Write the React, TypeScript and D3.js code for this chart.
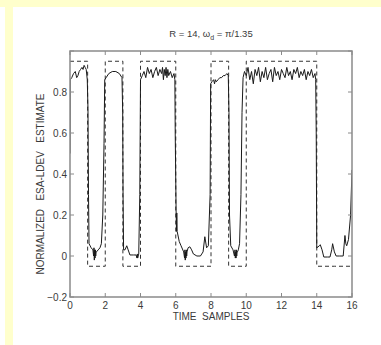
import React from "react";
import * as d3 from "d3";

const W = 381;
const H = 345;

const xTicks = [0, 2, 4, 6, 8, 10, 12, 14, 16];
const yTicks = [-0.2, 0, 0.2, 0.4, 0.6, 0.8, 1.0];
const yTickLabels = ["\u22120.2", "0", "0.2", "0.4", "0.6", "0.8", ""];

const bits = [1, 0, 1, 0, 1, 1, 0, 0, 1, 0, 1, 1, 1, 1, 0, 0];
const highLevel = 0.95;
const lowLevel = -0.05;

const estX = [
  0, 0.01, 0.1, 0.2, 0.3, 0.38, 0.45, 0.52, 0.6, 0.68, 0.74, 0.8, 0.86, 0.92, 0.98, 1.02, 1.05, 1.08, 1.2, 1.3,
  1.34, 1.36, 1.38, 1.4, 1.42, 1.44, 1.46, 1.48, 1.5, 1.6, 1.7, 1.78, 1.86, 1.93, 1.97, 2.05, 2.2, 2.4, 2.6, 2.8,
  2.95, 2.99, 3.01, 3.04, 3.12, 3.22, 3.3, 3.4, 3.6, 3.75, 3.8, 3.82, 3.84, 3.9, 3.96, 4.0, 4.1, 4.2, 4.3, 4.4,
  4.5, 4.6, 4.7, 4.8, 4.9, 5.0, 5.1, 5.2, 5.25, 5.3, 5.35, 5.4, 5.45, 5.5, 5.55, 5.6, 5.7, 5.8, 5.9, 5.95, 5.97,
  6.02, 6.04, 6.06, 6.08, 6.2, 6.3, 6.45, 6.5, 6.52, 6.54, 6.56, 6.58, 6.6, 6.62, 6.64, 6.7, 6.8, 6.9, 7.0, 7.2,
  7.4, 7.55, 7.65, 7.75, 7.85, 7.95, 7.98, 8.05, 8.15, 8.2, 8.25, 8.3, 8.4, 8.5, 8.6, 8.7, 8.8, 8.9, 8.98, 9.02,
  9.05, 9.12, 9.25, 9.33, 9.36, 9.38, 9.4, 9.42, 9.44, 9.46, 9.48, 9.5, 9.55, 9.62, 9.7, 9.76, 9.82, 9.9, 10.0,
  10.1, 10.2, 10.3, 10.4, 10.5, 10.6, 10.7, 10.8, 10.9, 11.0, 11.1, 11.2, 11.3, 11.4, 11.5, 11.6, 11.7, 11.8,
  11.9, 12.0, 12.1, 12.2, 12.3, 12.4, 12.5, 12.6, 12.7, 12.8, 12.9, 13.0, 13.1, 13.2, 13.3, 13.4, 13.5, 13.6,
  13.7, 13.8, 13.9, 13.94, 13.97, 14.0, 14.15, 14.2, 14.3, 14.4, 14.6, 14.75, 14.85, 14.9, 15.0, 15.1, 15.3,
  15.5, 15.6, 15.65, 15.7, 15.8, 15.92, 16.0,
];
const estY = [
  0.5, 0.86, 0.87, 0.89, 0.9, 0.87, 0.88, 0.9, 0.91, 0.92, 0.91, 0.93, 0.92, 0.91, 0.86, 0.72, 0.3, 0.06, 0.04, 0.03,
  0.0, 0.04, -0.02, 0.03, -0.01, 0.03, 0.0, 0.02, 0.02, 0.03, 0.04, 0.06, 0.2, 0.55, 0.86, 0.87, 0.89, 0.9, 0.9, 0.89,
  0.87, 0.7, 0.3, 0.03, 0.03, 0.05, 0.03, 0.005, 0.005, 0.005, -0.01, 0.01, -0.01, 0.01, 0.3, 0.86, 0.88, 0.9, 0.87, 0.92,
  0.89, 0.91, 0.87, 0.9, 0.92, 0.88, 0.91, 0.89, 0.92, 0.86, 0.91, 0.88, 0.92, 0.87, 0.91, 0.88, 0.9, 0.87, 0.89, 0.86, 0.6,
  0.22, 0.12, 0.21, 0.12, 0.07, 0.05, 0.02, -0.01, 0.03, -0.02, 0.02, -0.01, 0.03, 0.0, 0.02, 0.04, 0.045, 0.03, 0.01, 0.0,
  0.0, 0.02, 0.094, 0.04, 0.05, 0.3, 0.84, 0.85, 0.86, 0.84, 0.86, 0.85, 0.86, 0.87, 0.87, 0.88, 0.88, 0.89, 0.88, 0.7,
  0.2, 0.05, 0.03, 0.0, 0.03, -0.01, 0.02, -0.01, 0.03, 0.0, 0.02, 0.02, 0.03, 0.06, 0.3, 0.7, 0.87, 0.9, 0.88,
  0.92, 0.86, 0.9, 0.84, 0.91, 0.88, 0.92, 0.85, 0.9, 0.87, 0.92, 0.86, 0.89, 0.91, 0.85, 0.92, 0.88, 0.9,
  0.86, 0.91, 0.89, 0.87, 0.92, 0.88, 0.9, 0.86, 0.91, 0.89, 0.92, 0.87, 0.9, 0.88, 0.91, 0.86, 0.9, 0.88,
  0.91, 0.87, 0.89, 0.86, 0.6, 0.04, 0.05, 0.055, 0.03, -0.005, -0.005, -0.005, 0.03, 0.06, 0.02, 0.0, 0.0,
  0.0, 0.1, 0.06, 0.05, 0.08, 0.2, 0.42,
];

export default function App() {
  const left = 70, right = 352, top = 51, bottom = 297;
  const x = d3.scaleLinear().domain([0, 16]).range([left, right]);
  const y = d3.scaleLinear().domain([-0.2, 1.0]).range([bottom, top]);

  const stepPts: [number, number][] = [];
  bits.forEach((b, i) => {
    const v = b ? highLevel : lowLevel;
    stepPts.push([i, v]);
    stepPts.push([i + 1, v]);
  });
  const line = d3.line<[number, number]>().x((d) => x(d[0])).y((d) => y(d[1]));
  const estPts: [number, number][] = estX.map((v, i) => [v, estY[i]]);

  const font = "'Liberation Sans', Arial, sans-serif";
  const axisColor = "#8a8a8a";
  const textColor = "#3a3a3a";

  return (
    <svg width={W} height={H} style={{ position: "absolute", left: 0, top: 0 }}>
      <rect x={0} y={0} width={W} height={H} fill="#ffffff" />
      <rect x={0} y={0} width={W} height={7} fill="#ffffcc" />
      <rect x={5} y={0} width={8} height={H} fill="#ffffcc" />
      <defs>
        <clipPath id="clip">
          <rect x={left} y={top} width={right - left} height={bottom - top} />
        </clipPath>
      </defs>
      <g clipPath="url(#clip)">
        <path d={line(stepPts) || ""} fill="none" stroke="#333" strokeWidth={1} strokeDasharray="4,3" />
        <path d={line(estPts) || ""} fill="none" stroke="#1a1a1a" strokeWidth={1} />
      </g>
      <rect x={left} y={top} width={right - left} height={bottom - top} fill="none" stroke={axisColor} strokeWidth={1.5} />
      {xTicks.map((t) => (
        <g key={"x" + t}>
          <line x1={x(t)} x2={x(t)} y1={bottom} y2={bottom - 4} stroke={axisColor} />
          <line x1={x(t)} x2={x(t)} y1={top} y2={top + 4} stroke={axisColor} />
          <text x={x(t)} y={309} textAnchor="middle" fontFamily={font} fontSize={10} fill={textColor}>
            {t}
          </text>
        </g>
      ))}
      {yTicks.map((t, i) => (
        <g key={"y" + t}>
          <line x1={left} x2={left + 4} y1={y(t)} y2={y(t)} stroke={axisColor} />
          <line x1={right} x2={right - 4} y1={y(t)} y2={y(t)} stroke={axisColor} />
          <text x={left - 3} y={y(t) + 3.5} textAnchor="end" fontFamily={font} fontSize={10} fill={textColor}>
            {yTickLabels[i]}
          </text>
        </g>
      ))}
      <text x={211} y={37} textAnchor="middle" fontFamily={font} fontSize={9.5} fill={textColor}>
        R = 14, ω<tspan fontSize={7} dy={3}>d</tspan>
        <tspan dy={-3}> = π/1.35</tspan>
      </text>
      <text x={211} y={320} textAnchor="middle" fontFamily={font} fontSize={10} fill={textColor} style={{ whiteSpace: "pre" }}>
        TIME  SAMPLES
      </text>
      <text
        transform={`translate(44,184) rotate(-90)`}
        textAnchor="middle"
        fontFamily={font}
        fontSize={10}
        fill={textColor}
        style={{ whiteSpace: "pre" }}
      >
        NORMALIZED   ESA-LDEV   ESTIMATE
      </text>
    </svg>
  );
}
